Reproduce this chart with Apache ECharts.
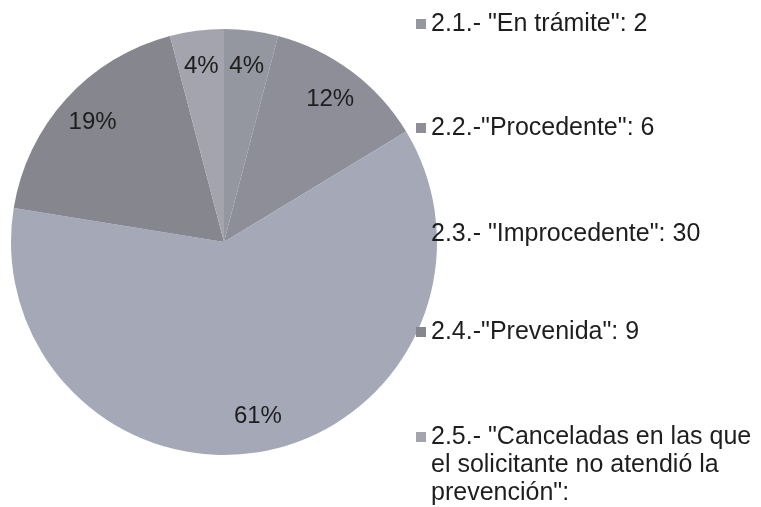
<!DOCTYPE html>
<html>
<head>
<meta charset="utf-8">
<script src="https://cdn.jsdelivr.net/npm/echarts@6/dist/echarts.min.js"></script>
<style>
  html, body { margin: 0; padding: 0; background: #fff; }
  #chart { width: 761px; height: 507px; }
</style>
</head>
<body>
<div id="chart"></div>
<script>
// categorias y valores
const categories = [
    '2.1.- "En trámite": 2',
    '2.2.-"Procedente": 6',
    '2.3.- "Improcedente": 30',
    '2.4.-"Prevenida": 9',
    '2.5.- "Canceladas en las que\nel solicitante no atendió la\nprevención":'
];
const values = [2, 6, 30, 9, 2];
const sliceColors = ['#9597a0', '#8d8e97', '#a5a9b7', '#86878e', '#a3a4ae'];
const legendTops = [10, 114, 220, 318, 423];

const chart = echarts.init(document.getElementById('chart'));
const font = 'Liberation Sans, Arial, sans-serif';

let pieData = categories.map(function (name, i) {
    return { name: name, value: values[i], itemStyle: { color: sliceColors[i] } };
});

// una leyenda por item, para poder colocar cada linea donde esta en el original
let legends = categories.map(function (name, i) {
    let multi = name.indexOf('\n') >= 0;
    return {
        data: [name],
        orient: 'vertical',
        left: 416,
        top: legendTops[i],
        padding: 0,
        itemWidth: 10,
        itemHeight: multi ? 66 : 10,
        // en el item de 3 lineas el cuadrito va arriba, junto a la primera linea
        icon: multi ? 'path://M0,0h10v10h-10zM0,65.9h0.1v0.1h-0.1z' : 'rect',
        selectedMode: false,
        itemStyle: { borderWidth: 0 },
        textStyle: {
            fontFamily: font,
            fontSize: 25,
            color: '#1e1e1e',
            lineHeight: 28
        }
    };
});

let option = {
    animation: false,
    backgroundColor: '#ffffff',
    legend: legends,
    series: [
        {
            name: 'pie',
            type: 'pie',
            center: [224, 242],
            radius: 213,
            startAngle: 90,
            clockwise: true,
            silent: true,
            label: { show: false },
            labelLine: { show: false },
            itemStyle: { borderWidth: 0 },
            data: pieData
        },
        {
            // anillo invisible solo para colocar las etiquetas de porcentaje
            name: 'labels',
            type: 'pie',
            center: [224, 242],
            radius: [136, 213],
            startAngle: 90,
            clockwise: true,
            silent: true,
            percentPrecision: 0,
            avoidLabelOverlap: false,
            labelLayout: { hideOverlap: false },
            itemStyle: { color: 'rgba(0,0,0,0)', borderWidth: 0 },
            label: {
                show: true,
                position: 'inside',
                formatter: '{d}%',
                fontFamily: font,
                fontSize: 24,
                color: '#1e1e1e'
            },
            labelLine: { show: false },
            data: categories.map(function (name, i) {
                return { name: name, value: values[i] };
            })
        }
    ]
};
chart.setOption(option);
</script>
</body>
</html>
